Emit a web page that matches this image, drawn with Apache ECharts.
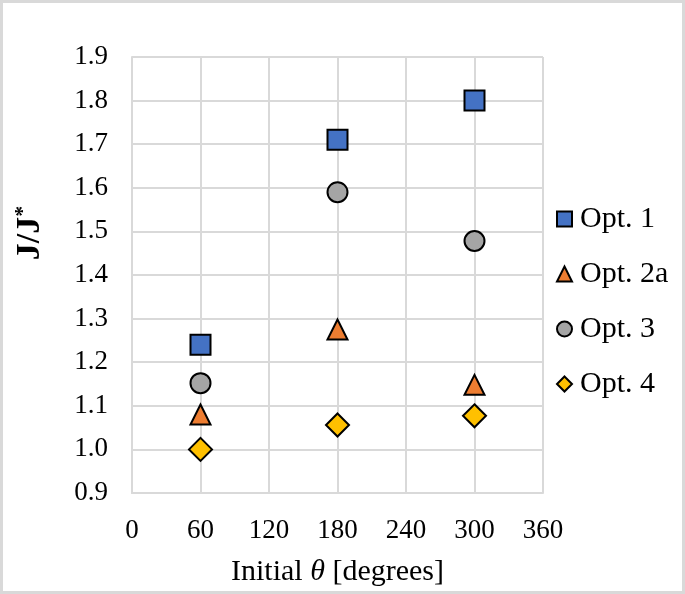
<!DOCTYPE html>
<html>
<head>
<meta charset="utf-8">
<script src="https://cdn.jsdelivr.net/npm/echarts@6/dist/echarts.min.js"></script>
<style>
  html, body { margin: 0; padding: 0; background: #fff; }
  #chart { width: 685px; height: 594px; box-sizing: border-box; border: 3px solid #d9d9d9; }
</style>
</head>
<body>
<div id="chart"></div>
<script>
// initial theta values (degrees)
const thetas = [60, 180, 300];
const opt1 = [1.24, 1.71, 1.80];
const opt2a = [1.08, 1.275, 1.148];
const opt3 = [1.152, 1.59, 1.478];
const opt4 = [1.0, 1.056, 1.077];
const xTicks = [0, 60, 120, 180, 240, 300, 360];

const seriesDefs = [
  { name: 'Opt. 1', values: opt1, symbol: 'rect', size: 20, color: '#4472C4' },
  { name: 'Opt. 2a', values: opt2a, symbol: 'triangle', size: 20, color: '#ED7D31' },
  { name: 'Opt. 3', values: opt3, symbol: 'circle', size: 20, color: '#A5A5A5' },
  { name: 'Opt. 4', values: opt4, symbol: 'diamond', size: 23, color: '#FFC000' }
];

const font = '"Liberation Serif", "Times New Roman", serif';
const chart = echarts.init(document.getElementById('chart'));

const option = {
  backgroundColor: '#fff',
  animation: false,
  grid: { left: 129, top: 54, right: 139, bottom: 98, outerBoundsMode: 'none' },
  // y title sits above the plot centre in the original, so it is drawn here
  graphic: [{
    type: 'text',
    x: 27, y: 230,
    rotation: Math.PI / 2,
    style: {
      text: '{n|J/J}{s|*}',
      align: 'center',
      verticalAlign: 'middle',
      rich: {
        n: { fontFamily: font, fontSize: 34, fontWeight: 'bold', fill: '#000' },
        s: { fontFamily: font, fontSize: 22, fontWeight: 'bold', fill: '#000', verticalAlign: 'top', padding: [0, 0, 13, 0] }
      }
    }
  }],
  legend: {
    orient: 'vertical',
    left: 553,
    top: 201,
    padding: 0,
    itemGap: 25,
    itemWidth: 15,
    itemHeight: 15,
    textStyle: { fontFamily: font, fontSize: 30, color: '#000', padding: [0, 0, 0, 3] },
    data: seriesDefs.map(s => s.name)
  },
  xAxis: {
    type: 'value',
    min: 0, max: 360, interval: 60,
    name: '{n|Initial }{t|θ}{n| [degrees]}',
    nameLocation: 'middle',
    nameGap: 64,
    nameTextStyle: {
      rich: {
        n: { fontFamily: font, fontSize: 30, color: '#000' },
        t: { fontFamily: font, fontSize: 30, fontStyle: 'italic', color: '#000' }
      }
    },
    axisLine: { show: true, lineStyle: { color: '#d9d9d9', width: 2 } },
    axisTick: { show: false },
    axisLabel: {
      fontFamily: font, fontSize: 27, color: '#000', margin: 24,
      formatter: v => xTicks.indexOf(v) >= 0 ? String(v) : ''
    },
    splitLine: { show: true, lineStyle: { color: '#d9d9d9', width: 2 } }
  },
  yAxis: {
    type: 'value',
    min: 0.9, max: 1.9, interval: 0.1,
    axisLine: { show: true, lineStyle: { color: '#d9d9d9', width: 2 } },
    axisTick: { show: false },
    axisLabel: {
      fontFamily: font, fontSize: 27, color: '#000', margin: 24,
      formatter: v => v.toFixed(1)
    },
    splitLine: { show: true, lineStyle: { color: '#d9d9d9', width: 2 } }
  },
  series: seriesDefs.map(s => ({
    name: s.name,
    type: 'scatter',
    symbol: s.symbol,
    symbolSize: s.size,
    itemStyle: { color: s.color, borderColor: '#000', borderWidth: 2, opacity: 1 },
    data: thetas.map((t, i) => [t, s.values[i]])
  }))
};

chart.setOption(option);
</script>
</body>
</html>
